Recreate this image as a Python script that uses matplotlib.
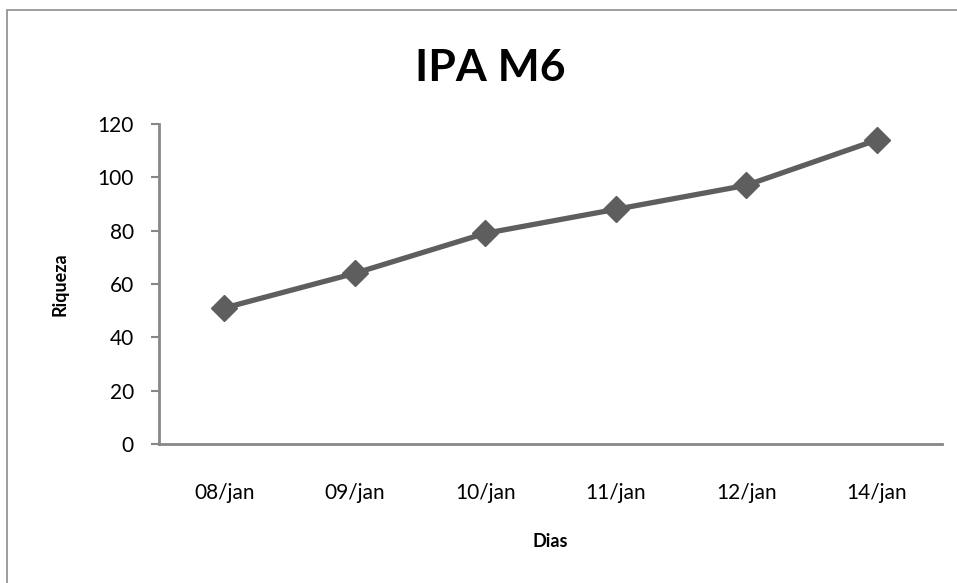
import matplotlib
matplotlib.use("Agg")
import matplotlib.pyplot as plt
from matplotlib.patches import Rectangle

plt.rcParams['font.family'] = ['Lato', 'DejaVu Sans']

dias = ["08/jan", "09/jan", "10/jan", "11/jan", "12/jan", "14/jan"]
riqueza = [51, 64, 79, 88, 97, 114]

W, H = 957, 583
fig = plt.figure(figsize=(W / 100, H / 100), dpi=100)

# chart border (excel style), right and bottom edges fall outside the image
fig.patches.append(Rectangle((7 / W, -0.05), 1.1, 1.05 - 10 / H, transform=fig.transFigure,
                             fill=False, edgecolor="#8c8c8c", linewidth=1.2))

ax = fig.add_axes([159 / W, 1 - 444 / H, (942 - 159) / W, (444 - 124) / H])
x = range(len(dias))
ax.plot(x, riqueza, color="#5e5e5e", linewidth=3.8, marker="D", markersize=13,
        markeredgecolor="#5e5e5e", markerfacecolor="#5e5e5e")

ax.set_xlim(-0.5, len(dias) - 0.5)
ax.set_ylim(0, 120)
ax.set_yticks(range(0, 121, 20))
ax.set_xticks(list(x))
ax.set_xticklabels(dias)

for s in ["top", "right"]:
    ax.spines[s].set_visible(False)
for s in ["left", "bottom"]:
    ax.spines[s].set_color("#878787")
    ax.spines[s].set_linewidth(2)

ax.tick_params(axis="y", direction="out", length=6, width=1.5, color="#878787",
               labelsize=15, pad=12)
ax.tick_params(axis="x", length=0, labelsize=15, pad=28)

ax.set_xlabel("Dias", fontsize=13, fontweight="bold", labelpad=22)
ax.set_ylabel("Riqueza", fontsize=13, fontweight="bold", labelpad=21)
fig.text(490 / W, 1 - 68 / H, "IPA M6", fontsize=32, fontweight="bold",
         ha="center", va="center")

fig.savefig("out.png", dpi=100)
